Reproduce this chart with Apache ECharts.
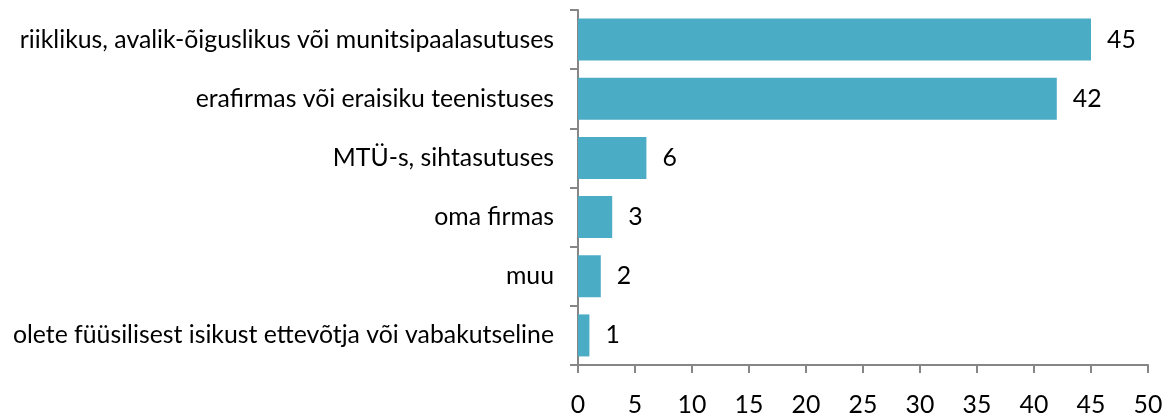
<!DOCTYPE html>
<html>
<head>
<meta charset="utf-8">
<script src="https://cdn.jsdelivr.net/npm/echarts@6/dist/echarts.min.js"></script>
<style>
  html, body { margin: 0; padding: 0; background: #fff; }
  #chart { width: 1170px; height: 418px; }
</style>
</head>
<body>
<div id="chart"></div>
<script>
// Where respondents work (share, %)
const categories = [
  'riiklikus, avalik-õiguslikus või munitsipaalasutuses',
  'erafirmas või eraisiku teenistuses',
  'MTÜ-s, sihtasutuses',
  'oma firmas',
  'muu',
  'olete füüsilisest isikust ettevõtja või vabakutseline'
];
const values = [45, 42, 6, 3, 2, 1];
const xTicks = { min: 0, max: 50, interval: 5 };

const FONT = 'Lato, "Open Sans", sans-serif';
const FONT_SIZE = 24.8;
const AXIS_COLOR = '#868686';

const chart = echarts.init(document.getElementById('chart'), null, { renderer: 'canvas' });
chart.setOption({
  animation: false,
  backgroundColor: '#ffffff',
  grid: { left: 578, right: 22, top: 10, bottom: 53, containLabel: false },
  xAxis: {
    type: 'value',
    min: xTicks.min,
    max: xTicks.max,
    interval: xTicks.interval,
    axisLine: { show: true, lineStyle: { color: AXIS_COLOR, width: 2 } },
    axisTick: { show: true, length: 8, lineStyle: { color: AXIS_COLOR, width: 2 } },
    splitLine: { show: false },
    axisLabel: { color: '#000', fontFamily: FONT, fontSize: FONT_SIZE, margin: 28 }
  },
  yAxis: {
    type: 'category',
    data: categories,
    inverse: true,
    axisLine: { show: true, lineStyle: { color: AXIS_COLOR, width: 2 } },
    axisTick: { show: true, length: 8, lineStyle: { color: AXIS_COLOR, width: 2 } },
    axisLabel: { color: '#000', fontFamily: FONT, fontSize: FONT_SIZE, margin: 24 }
  },
  series: [{
    type: 'bar',
    data: values,
    barCategoryGap: '29%',
    itemStyle: { color: '#4BACC6' },
    label: {
      show: true,
      position: 'right',
      distance: 16,
      color: '#000',
      fontFamily: FONT,
      fontSize: FONT_SIZE
    }
  }]
});
</script>
</body>
</html>
